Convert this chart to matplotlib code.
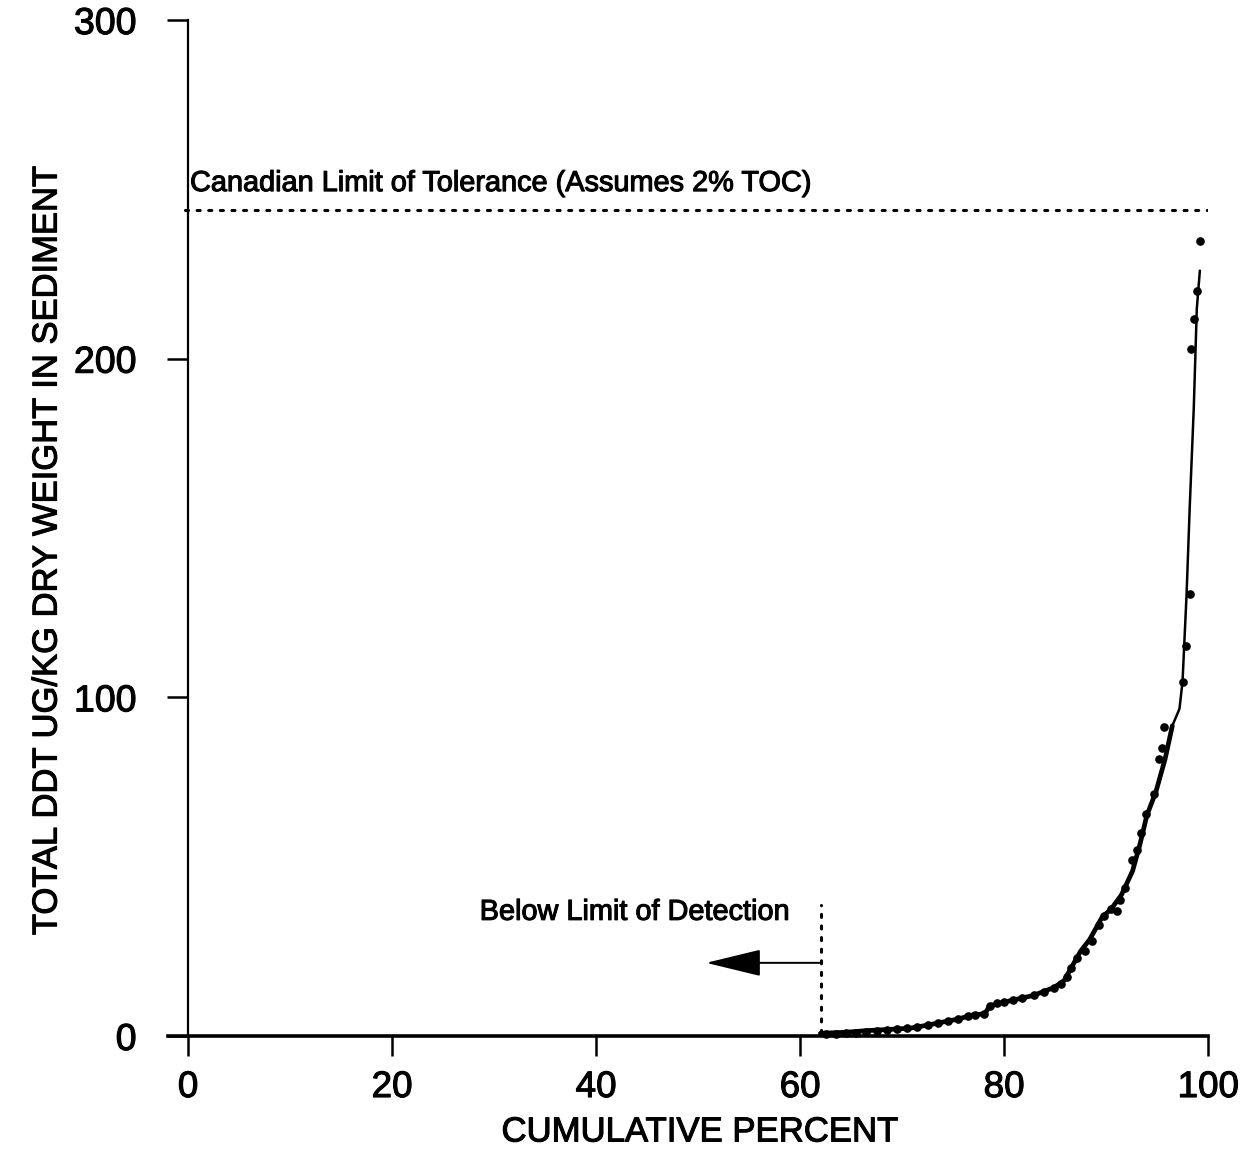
import matplotlib
matplotlib.use("Agg")
import matplotlib.pyplot as plt
import matplotlib.patheffects as pe
from matplotlib import font_manager

# cumulative distribution of total DDT (ug/kg dry weight)
curve_pct = [62.0, 64.5, 66.6, 68.5, 70.8, 72.5, 73.8, 75.5, 77.0, 78.1, 78.6,
             80.0, 80.9, 82.9, 84.9, 85.9, 86.6, 87.5, 88.4, 89.6, 90.5, 91.5,
             92.6, 93.3, 94.0, 94.9, 95.8, 96.5, 97.2, 97.5, 97.9, 98.2, 98.6,
             98.9, 99.2]
curve_val = [0.8, 1.1, 1.6, 1.9, 2.3, 3.2, 4.0, 5.0, 6.3, 6.5, 8.9,
             10.0, 10.6, 12.0, 14.3, 16.4, 20.2, 25.0, 28.5, 35.0, 37.5, 41.6,
             48.7, 56.3, 65.1, 72.2, 81.9, 91.6, 96.6, 104.6, 130.6, 155.7, 185.2,
             214.7, 226.0]

# individual sample points
dot_pct = [62.5, 63.5, 64.5, 65.5, 66.5, 67.5, 68.5, 69.5, 70.5, 71.5, 72.5,
           73.5, 74.5, 75.5, 76.5, 77.2, 78.0, 78.6, 79.3, 80.0, 80.9, 81.8,
           82.9, 83.9, 84.9, 85.6, 86.2, 86.6, 87.2, 87.9, 88.6, 89.3, 89.8,
           90.5, 91.1, 91.4, 91.9, 92.5, 93.0, 93.4, 93.9, 94.7, 95.2, 95.5,
           95.7, 97.5, 97.8, 98.2, 98.3, 98.6, 98.9, 99.2]
dot_val = [0.5, 0.6, 0.8, 1.0, 1.3, 1.5, 1.8, 2.0, 2.3, 2.8, 3.2,
           3.8, 4.3, 5.0, 5.8, 6.3, 6.5, 8.9, 9.6, 10.0, 10.6, 11.3,
           12.0, 13.0, 14.3, 15.5, 17.5, 20.2, 23.0, 25.1, 28.0, 32.9, 35.3,
           37.5, 36.8, 40.2, 43.6, 52.0, 54.9, 59.8, 65.7, 71.6, 81.9, 84.9,
           91.3, 104.6, 115.2, 130.6, 202.9, 211.8, 220.0, 234.7]

limit_tolerance = 244
detect_pct = 62.1
detect_top = 38.6
arrow_y = 21.6
arrow_tip = 50.8

x_ticks = [0, 20, 40, 60, 80, 100]
y_ticks = [0, 100, 200, 300]

main_font = "Liberation Sans"
names = {f.name for f in font_manager.fontManager.ttflist}
narrow_font = "Liberation Sans Narrow" if "Liberation Sans Narrow" in names else main_font
plt.rcParams["font.family"] = [main_font, "DejaVu Sans"]

# scanned print: strokes of the lettering are a little heavy
ink = [pe.withStroke(linewidth=0.8, foreground="black")]

fig = plt.figure(figsize=(12.45, 11.52), dpi=100)
ax = fig.add_axes([0.1346, 0.1007, 0.8357, 0.8819])

n_low = 28  # dense part of the curve prints thicker
ax.plot(curve_pct[:n_low], curve_val[:n_low], color="black", lw=3.4,
        solid_capstyle="round", zorder=3)
ax.plot(curve_pct[n_low - 1:], curve_val[n_low - 1:], color="black", lw=1.8,
        solid_capstyle="round", clip_on=False, zorder=3)
ax.plot(dot_pct, dot_val, "o", color="black", ms=5.2, clip_on=False, zorder=4)

# tolerance line and labels
ax.plot([-0.3, 100], [limit_tolerance, limit_tolerance], color="black", lw=2.2,
        linestyle=(0, (1, 2.8)), dash_capstyle="round")
ax.text(0.2, limit_tolerance + 5.5, "Canadian Limit of Tolerance (Assumes 2% TOC)",
        fontsize=20.8, va="baseline", ha="left", path_effects=ink)

ax.plot([detect_pct, detect_pct], [1.0, detect_top], color="black", lw=2.2,
        linestyle=(0, (1, 2.8)), dash_capstyle="round")
ax.text(28.6, 34.3, "Below Limit of Detection", fontsize=20.8,
        va="baseline", ha="left", path_effects=ink)
ax.annotate("", xy=(arrow_tip, arrow_y), xytext=(detect_pct, arrow_y),
            arrowprops=dict(arrowstyle="-|>,head_length=1.4,head_width=0.34",
                            mutation_scale=25, lw=1.4, color="black",
                            shrinkA=0, shrinkB=0))

ax.set_xlim(-2, 100)
ax.set_ylim(0, 300)
ax.spines["top"].set_visible(False)
ax.spines["right"].set_visible(False)
ax.spines["left"].set_position(("data", 0))
ax.spines["left"].set_linewidth(1.6)
ax.spines["bottom"].set_linewidth(2.6)

ax.set_xticks(x_ticks)
ax.set_yticks(y_ticks)
ax.tick_params(axis="x", direction="out", length=14.5, width=1.8,
               labelsize=26.5, pad=10)
ax.tick_params(axis="y", direction="out", length=15, width=1.8,
               labelsize=27, pad=22)
for lab in ax.get_xticklabels() + ax.get_yticklabels():
    lab.set_path_effects(ink)

fig.text(0.562, 0.0174, "CUMULATIVE PERCENT", fontsize=25,
         ha="center", va="center", path_effects=ink)
ylab = fig.text(0.0378, 0.5226, "TOTAL DDT UG/KG DRY WEIGHT IN SEDIMENT",
                fontsize=32, rotation=90, ha="center", va="center",
                family=[narrow_font, "DejaVu Sans"], path_effects=ink)

# squeeze the y label to the length it has in the original
fig.canvas.draw()
h = ylab.get_window_extent().height
ylab.set_fontsize(32 * min(1.0, 770 / h))

fig.savefig("out.png", dpi=100)
